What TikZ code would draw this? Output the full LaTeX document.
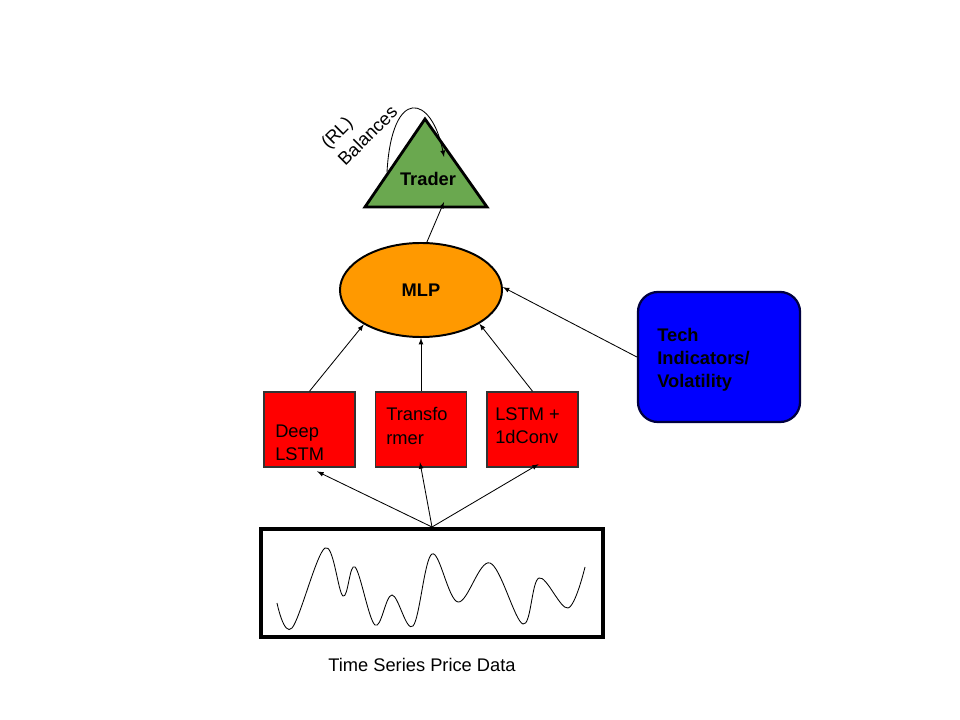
\documentclass[tikz,border=0pt]{standalone}
\usepackage{fontspec}
\setmainfont{Liberation Sans}
\usepackage{tikz}
\usetikzlibrary{calc, shapes.geometric, positioning}

\definecolor{tradergreen}{HTML}{6AA84F}
\definecolor{mlporange}{HTML}{FF9900}
\definecolor{modelred}{HTML}{FF0000}
\definecolor{techblue}{HTML}{0000FF}

\tikzset{
    modelbox/.style={draw=black!80, line width=1.2pt, fill=modelred, minimum width=2.27cm, minimum height=1.87cm, inner sep=0pt},
    boxtext/.style={anchor=west, align=left, font=\fontsize{13}{16.5}\selectfont, inner sep=0pt},
    conn/.style={->, line width=0.6pt}
}

\begin{document}
\begin{tikzpicture}[>=latex, x=0.025cm, y=-0.025cm]
    \useasboundingbox (0,0) rectangle (960,720);

    % Trader
    \draw[line width=2pt, fill=tradergreen] (425,119) -- (487,207) -- (365,207) -- cycle;
    \node[font=\fontsize{13}{16}\selectfont\bfseries] (trader) at (428,179) {Trader};
    \coordinate (traderin) at (444,202);
    \coordinate (loopstart) at (387,172);
    \coordinate (loopend) at (444,157);
    \node[rotate=45, align=left, font=\fontsize{13}{17}\selectfont, inner sep=0pt] (bal) at (359,127) {(RL)\\Balances};
    \draw[conn] (loopstart) .. controls (392,85) and (432,95) .. (loopend);

    % MLP
    \node[ellipse, draw, line width=1.4pt, fill=mlporange, minimum width=4.05cm, minimum height=2.35cm, inner sep=0pt,
          font=\fontsize{13}{16}\selectfont\bfseries] (mlp) at (421,290) {MLP};

    % Tech indicators
    \node[draw=black!75!blue, line width=1.6pt, fill=techblue, rounded corners=0.5cm, minimum width=4.05cm, minimum height=3.25cm] (tech) at (719,357) {};
    \node[boxtext, font=\fontsize{13}{16.5}\selectfont\bfseries] (techtxt) at (657,360) {Tech\\Indicators/\\Volatility};

    % Models
    \node[modelbox] (deep) at (309.5,429.5) {};
    \node[modelbox] (trans) at (421,429.5) {};
    \node[modelbox] (conv) at (532.5,429.5) {};
    \node[boxtext] (deeptxt) at (275,443) {Deep\\LSTM};
    \node[boxtext] (transtxt) at (386,426) {Transfo\\rmer};
    \node[boxtext] (convtxt) at (495,425.5) {LSTM +\\1dConv};

    % Time series
    \node[draw, line width=2.8pt, minimum width=8.55cm, minimum height=2.7cm, inner sep=0pt] (ts) at (432,583) {};
    \draw[line width=0.6pt] plot[smooth, tension=0.6] coordinates {(277,603) (292,628) (325,548) (343,596) (355,567) (375,625) (392,595) (413,626) (432,554) (458,602) (490,563) (523,624) (539,578) (568,608) (585,567)};
    \node[font=\fontsize{13}{16}\selectfont] (tslabel) at (422,665) {Time Series Price Data};

    % Connections
    \draw[conn, shorten >=6pt] (ts.north) -- (deep.south);
    \draw[conn, shorten >=-4pt] (ts.north) -- (trans.south);
    \draw[conn, shorten >=-5pt] (ts.north) -- (conv.south);
    \draw[conn] (deep.north) -- (mlp.211);
    \draw[conn] (trans.north) -- (mlp.south);
    \draw[conn] (conv.north) -- (mlp.-30);
    \draw[conn] (tech.west) -- (mlp.2);
    \draw[conn] (mlp.83) -- (traderin);
\end{tikzpicture}
\end{document}
